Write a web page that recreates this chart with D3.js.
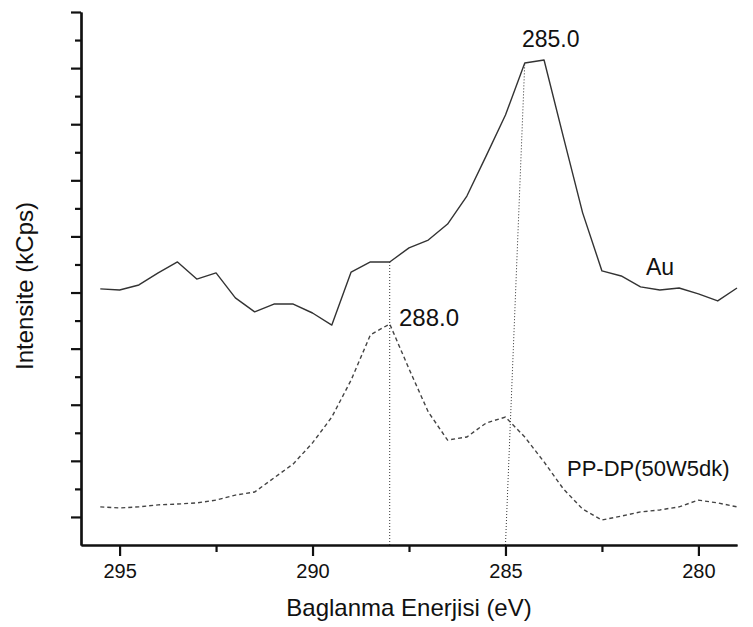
<!DOCTYPE html>
<html>
<head>
<meta charset="utf-8">
<script src="https://cdn.jsdelivr.net/npm/d3@7"></script>
<style>
  html, body { margin: 0; padding: 0; background: #fff; }
  svg { display: block; }
  text { font-family: "Liberation Sans", Arial, sans-serif; fill: #111; }
</style>
</head>
<body>
<svg id="chart" width="753" height="627"></svg>
<script>
// Binding energy grid (eV), 0.5 eV steps
const energy = [295.5, 295.0, 294.5, 294.0, 293.5, 293.0, 292.5, 292.0, 291.5, 291.0,
                290.5, 290.0, 289.5, 289.0, 288.5, 288.0, 287.5, 287.0, 286.5, 286.0,
                285.5, 285.0, 284.5, 284.0, 283.5, 283.0, 282.5, 282.0, 281.5, 281.0,
                280.5, 280.0, 279.5, 279.0];

// Au C1s spectrum (solid line)
const auCounts = [9.13, 9.09, 9.27, 9.70, 10.09, 9.48, 9.70, 8.81, 8.31, 8.59,
                  8.59, 8.27, 7.84, 9.73, 10.09, 10.09, 10.59, 10.87, 11.44, 12.44,
                  13.87, 15.33, 17.18, 17.29, 14.55, 11.84, 9.77, 9.59, 9.20, 9.09,
                  9.16, 8.95, 8.70, 9.16];

// PP-DP(50W5dk) spectrum (dashed line)
const ppdpCounts = [1.36, 1.32, 1.36, 1.43, 1.46, 1.50, 1.60, 1.78, 1.89, 2.39,
                    2.89, 3.64, 4.56, 5.88, 7.49, 7.88, 6.28, 4.74, 3.74, 3.85,
                    4.35, 4.56, 3.85, 2.96, 2.00, 1.28, 0.89, 1.03, 1.18, 1.25,
                    1.36, 1.60, 1.50, 1.36];

const xMajorTicks = [295, 290, 285, 280];
const xMinorTicks = [292.5, 287.5, 282.5];
const yMajorTicks = [1, 3, 5, 7, 9, 11, 13, 15, 17, 19];
const yMinorTicks = [2, 4, 6, 8, 10, 12, 14, 16, 18];

// Peak markers: label, energy at the axis, energy/intensity at the top of the guide
const peakLabels = ["288.0", "285.0"];
const peakBaseEnergy = [288.0, 285.0];
const peakTopEnergy = [288.0, 284.5];
const peakTopCounts = [10.09, 17.18];

const svg = d3.select("#chart");

const x = d3.scaleLinear().domain([296, 279]).range([81, 737]);
const y = d3.scaleLinear().domain([0, 19]).range([545, 12]);

// Guide lines from the axis up to the peaks
svg.append("g")
  .selectAll("line")
  .data(peakLabels)
  .join("line")
  .attr("x1", (d, i) => x(peakBaseEnergy[i]))
  .attr("y1", y(0))
  .attr("x2", (d, i) => x(peakTopEnergy[i]))
  .attr("y2", (d, i) => y(peakTopCounts[i]))
  .attr("stroke", "#333")
  .attr("stroke-width", 1)
  .attr("stroke-dasharray", "1,2");

const line = d3.line()
  .x((d, i) => x(energy[i]))
  .y(d => y(d));

svg.append("path")
  .datum(auCounts)
  .attr("d", line)
  .attr("fill", "none")
  .attr("stroke", "#333")
  .attr("stroke-width", 1.4)
  .attr("stroke-linejoin", "round");

svg.append("path")
  .datum(ppdpCounts)
  .attr("d", line)
  .attr("fill", "none")
  .attr("stroke", "#444")
  .attr("stroke-width", 1.4)
  .attr("stroke-dasharray", "4,3");

// Axes
function styleAxis(g) {
  g.selectAll("path").attr("stroke", "#111").attr("stroke-width", 2.2);
  g.selectAll("line").attr("stroke", "#111").attr("stroke-width", 2.2);
  g.selectAll("text")
    .attr("font-family", "Liberation Sans, Arial, sans-serif")
    .attr("font-size", 20)
    .attr("fill", "#111");
}

svg.append("g")
  .attr("transform", `translate(0,${y(0)})`)
  .call(d3.axisBottom(x).tickValues(xMinorTicks).tickSize(7).tickSizeOuter(0).tickFormat(""))
  .call(styleAxis);

svg.append("g")
  .attr("transform", `translate(0,${y(0)})`)
  .call(d3.axisBottom(x).tickValues(xMajorTicks).tickSize(11).tickSizeOuter(0)
        .tickPadding(8).tickFormat(d3.format("d")))
  .call(styleAxis);

svg.append("g")
  .attr("transform", `translate(${x(296)},0)`)
  .call(d3.axisLeft(y).tickValues(yMinorTicks).tickSize(6).tickSizeOuter(0).tickFormat(""))
  .call(styleAxis);

svg.append("g")
  .attr("transform", `translate(${x(296)},0)`)
  .call(d3.axisLeft(y).tickValues(yMajorTicks).tickSize(10).tickSizeOuter(0).tickFormat(""))
  .call(styleAxis);

// Axis titles
svg.append("text")
  .attr("x", 409)
  .attr("y", 616)
  .attr("text-anchor", "middle")
  .attr("font-size", 24)
  .text("Baglanma Enerjisi (eV)");

svg.append("text")
  .attr("transform", "translate(33,286) rotate(-90)")
  .attr("text-anchor", "middle")
  .attr("font-size", 24)
  .text("Intensite (kCps)");

// Peak labels
svg.append("text").attr("x", 399).attr("y", 326).attr("font-size", 24).text(peakLabels[0]);
svg.append("text").attr("x", 522).attr("y", 47).attr("font-size", 23).text(peakLabels[1]);

// Series labels
svg.append("text").attr("x", 646).attr("y", 275).attr("font-size", 23).text("Au");
svg.append("text").attr("x", 567).attr("y", 476).attr("font-size", 22).text("PP-DP(50W5dk)");
</script>
</body>
</html>
